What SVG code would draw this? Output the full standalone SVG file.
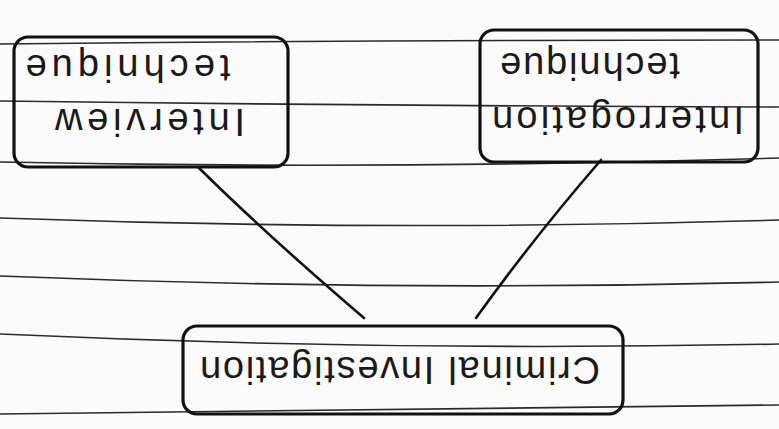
<svg xmlns="http://www.w3.org/2000/svg" width="779" height="429" viewBox="0 0 779 429">
<style>
.rule{fill:none;stroke:#2a2a2a;stroke-width:1.6}
.box{fill:none;stroke:#111;stroke-width:3.2;stroke-linejoin:round}
.conn{fill:none;stroke:#111;stroke-width:2.6;stroke-linecap:round}
.lbl{font-family:"Liberation Sans",Arial,sans-serif;font-size:38px;fill:#1a1a1a;text-anchor:middle;dominant-baseline:central}
</style>
<rect x="0" y="0" width="779" height="429" fill="#fbfbfb"/>
<g id="paper-rules">
<path class="rule" d="M0 44 Q390 40 779 40"/>
<path class="rule" d="M0 101 Q390 106 779 107"/>
<path class="rule" d="M0 162 Q390 170 779 158"/>
<path class="rule" d="M0 218 Q390 232 779 220"/>
<path class="rule" d="M0 276 Q390 292 779 282"/>
<path class="rule" d="M0 334 Q390 352 779 344"/>
<path class="rule" d="M0 414 Q390 410 779 405"/>
</g>
<g id="connectors">
<path class="conn" d="M199 168 Q268 236 364 318"/>
<path class="conn" d="M601 160 Q535 236 476 318"/>
</g>
<g id="node-interview">
<rect class="box" x="14" y="37" width="274" height="130" rx="14"/>
<text class="lbl" x="150" y="122" textLength="190" lengthAdjust="spacing" transform="rotate(180 150 122)">Interview</text>
<text class="lbl" x="128" y="68" textLength="205" lengthAdjust="spacing" transform="rotate(180 128 68)">technique</text>
</g>
<g id="node-interrogation">
<rect class="box" x="480" y="30" width="278" height="132" rx="14"/>
<text class="lbl" x="618" y="120" textLength="252" lengthAdjust="spacing" transform="rotate(180 618 120)">Interrogation</text>
<text class="lbl" x="590" y="66" textLength="180" lengthAdjust="spacing" transform="rotate(180 590 66)">technique</text>
</g>
<g id="node-criminal">
<rect class="box" x="183" y="326" width="440" height="88" rx="14"/>
<text class="lbl" x="400" y="370" textLength="400" lengthAdjust="spacing" transform="rotate(180 400 370)">Criminal Investigation</text>
</g>
</svg>
